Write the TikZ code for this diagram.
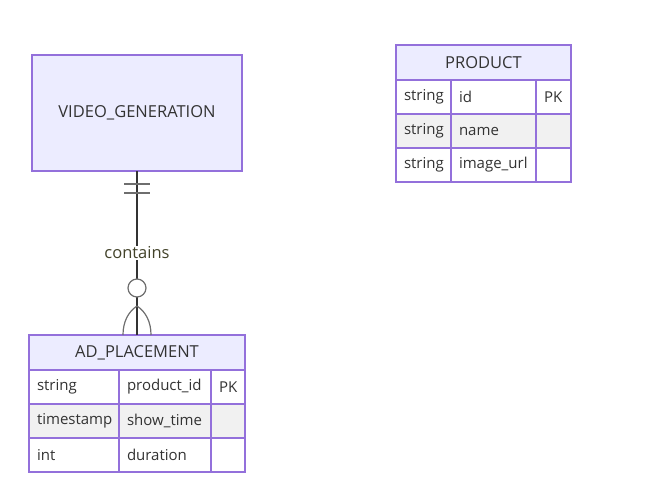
\documentclass[tikz,border=0pt]{standalone}
\usepackage{fontspec}
\setmainfont{Open Sans}
\usetikzlibrary{calc,positioning}
\definecolor{erfill}{HTML}{ECECFF}
\definecolor{erline}{HTML}{9370DB}
\definecolor{errow}{HTML}{F1F1F1}
\definecolor{ertext}{HTML}{333333}
\definecolor{ermark}{HTML}{6E6E6E}

\begin{document}
\begin{tikzpicture}[x=1pt,y=-1pt,
    entity/.style={rectangle,
        draw=erline,
        fill=erfill,
        line width=1.5pt,
        text=ertext,
        font=\fontsize{16.5}{19}\selectfont,
        inner sep=0pt, outer sep=0pt,
        anchor=north west},
    cell/.style={rectangle,
        draw=erline,
        fill=white,
        line width=1.5pt,
        text=ertext,
        font=\fontsize{15}{18}\selectfont,
        inner sep=8pt, outer sep=0pt,
        text width=#1,
        align=left,
        minimum height=34pt},
    odd/.style={fill=errow},
    rel/.style={draw=ertext, line width=1.3pt},
    cardmark/.style={draw=ermark, line width=1.2pt},
    on grid=false,
    node distance=0pt,
    ]

    \useasboundingbox (0,0) rectangle (659,497);

    % entity without attributes
    \node [entity, minimum width=210pt, minimum height=116pt] at (32,55) (video) {VIDEO\_GENERATION};

    % AD_PLACEMENT
    \node [entity, minimum width=216pt, minimum height=35pt] at (29,335) (adhead) {AD\_PLACEMENT};
    \node [cell=74pt, below = of adhead.south west, anchor=north west] (ad11) {string};
    \node [cell=76pt, right = of ad11] (ad12) {product\_id};
    \node [cell=18pt, right = of ad12] (ad13) {PK};
    \node [cell=74pt, odd, below = of ad11] (ad21) {timestamp};
    \node [cell=76pt, odd, right = of ad21] (ad22) {show\_time};
    \node [cell=18pt, odd, right = of ad22] (ad23) {};
    \node [cell=74pt, below = of ad21] (ad31) {int};
    \node [cell=76pt, right = of ad31] (ad32) {duration};
    \node [cell=18pt, right = of ad32] (ad33) {};

    % PRODUCT
    \node [entity, minimum width=175pt, minimum height=35pt] at (396,45) (prodhead) {PRODUCT};
    \node [cell=39pt, below = of prodhead.south west, anchor=north west] (pr11) {string};
    \node [cell=69pt, right = of pr11] (pr12) {id};
    \node [cell=19pt, right = of pr12] (pr13) {PK};
    \node [cell=39pt, odd, below = of pr11] (pr21) {string};
    \node [cell=69pt, odd, right = of pr21] (pr22) {name};
    \node [cell=19pt, odd, right = of pr22] (pr23) {};
    \node [cell=39pt, below = of pr21] (pr31) {string};
    \node [cell=69pt, right = of pr31] (pr32) {image\_url};
    \node [cell=19pt, right = of pr32] (pr33) {};

    % relationship
    \draw[rel] (video.south) -- node[fill=white, text=ertext!80!olive, inner sep=1pt,
        font=\fontsize{16.5}{19}\selectfont] (rellabel) {contains} (adhead.north);

    % exactly one
    \draw[cardmark] ($(video.south)+(-13,13)$) -- ($(video.south)+(13,13)$);
    \draw[cardmark] ($(video.south)+(-13,22)$) -- ($(video.south)+(13,22)$);

    % zero or more
    \draw[cardmark, fill=white] ($(adhead.north)+(0,-47)$) circle (9pt);
    \draw[cardmark] ($(adhead.north)+(0,-29)$) .. controls ($(adhead.north)+(-9,-23)$)
        and ($(adhead.north)+(-14,-13)$) .. ($(adhead.north)+(-14,0)$);
    \draw[cardmark] ($(adhead.north)+(0,-29)$) .. controls ($(adhead.north)+(9,-23)$)
        and ($(adhead.north)+(14,-13)$) .. ($(adhead.north)+(14,0)$);
\end{tikzpicture}
\end{document}
